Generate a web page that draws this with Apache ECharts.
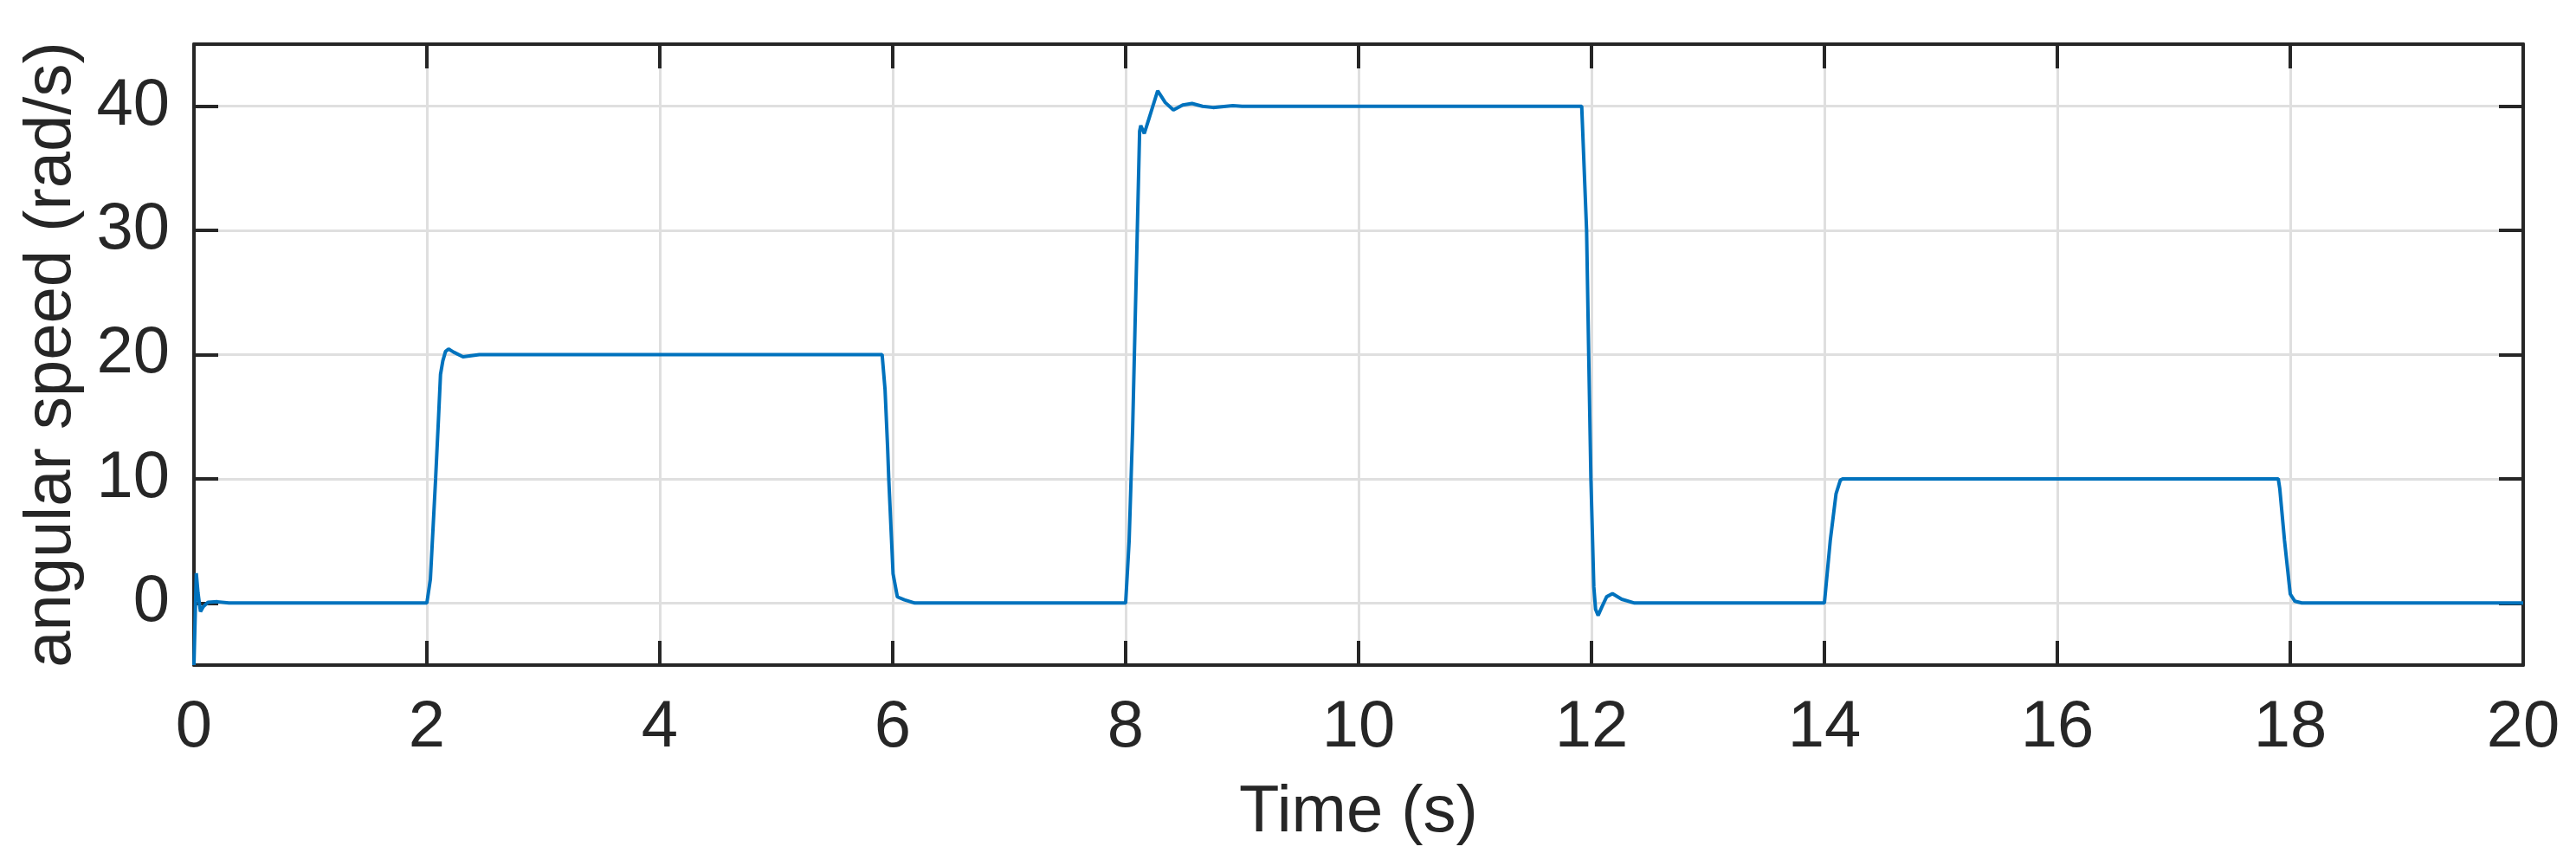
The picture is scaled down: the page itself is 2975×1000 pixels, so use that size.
<!DOCTYPE html>
<html>
<head>
<meta charset="utf-8">
<script src="https://cdn.jsdelivr.net/npm/echarts@6/dist/echarts.min.js"></script>
<style>
  html, body { margin: 0; padding: 0; background: #fff; }
  #chart { width: 2975px; height: 1000px; }
</style>
</head>
<body>
<div id="chart"></div>
<script>
// time samples (s)
var times = [
  0, 0.02, 0.035, 0.056, 0.08, 0.12, 0.2, 0.3,
  2.0, 2.013, 2.03, 2.075, 2.1, 2.117, 2.137, 2.16, 2.186, 2.23, 2.31, 2.38, 2.45,
  5.909, 5.934, 5.956, 5.966, 6.003, 6.04, 6.1, 6.19,
  8.0, 8.005, 8.03, 8.06, 8.08, 8.1, 8.12, 8.13, 8.16, 8.2, 8.275, 8.34, 8.41, 8.49, 8.57, 8.66, 8.75, 8.92, 9.0,
  11.916, 11.958, 11.976, 11.995, 12.02, 12.035, 12.057, 12.09, 12.13, 12.18, 12.26, 12.37,
  14.0, 14.05, 14.1, 14.137, 14.16,
  17.897, 17.91, 17.95, 18.0, 18.04, 18.1,
  20
]
// angular speed (rad/s)
var speeds = [
  -5, 2.4, 0.8, -0.7, -0.3, 0.05, 0.1, 0,
  0, 0, 1.9, 10, 14.9, 18.4, 19.5, 20.25, 20.45, 20.2, 19.83, 19.92, 20,
  20, 17.2, 12.55, 10, 2.35, 0.49, 0.26, 0,
  0, 0, 5, 14, 22, 30, 38, 38.45, 37.8, 39, 41.25, 40.3, 39.7, 40.1, 40.22, 40.0, 39.9, 40.05, 40,
  40, 30, 20, 10, 1.3, -0.5, -1.0, -0.3, 0.5, 0.75, 0.3, 0,
  0, 5, 8.8, 9.9, 10,
  10, 9.2, 5.1, 0.72, 0.14, 0,
  0
]
var xTicks = [0, 2, 4, 6, 8, 10, 12, 14, 16, 18, 20]
var yTicks = [0, 10, 20, 30, 40]

var font = '"Liberation Sans", Arial, Helvetica, sans-serif'
var axisColor = '#262626'

var chart = echarts.init(document.getElementById('chart'))

var points = times.map(function (t, i) { return [t, speeds[i]] })

function boxAxis(extra) {
  return Object.assign({
    type: 'value',
    axisLine: { show: true, onZero: false, lineStyle: { color: axisColor, width: 4 } },
    axisTick: { show: true, inside: true, length: 28, lineStyle: { color: axisColor, width: 4 } },
    axisLabel: { show: false },
    splitLine: { show: false }
  }, extra)
}

chart.setOption({
  animation: false,
  backgroundColor: '#fff',
  grid: { left: 224, right: 61, top: 51, bottom: 232 },
  xAxis: [
    boxAxis({
      position: 'bottom',
      min: 0, max: 20, interval: 2,
      name: 'Time (s)',
      nameLocation: 'middle',
      nameGap: 133,
      nameTextStyle: { color: axisColor, fontSize: 76, fontFamily: font },
      axisLabel: {
        show: true, margin: 35, color: axisColor, fontSize: 76, fontFamily: font,
        formatter: function (v) { return xTicks.indexOf(v) >= 0 ? String(v) : '' }
      },
      splitLine: { show: true, lineStyle: { color: '#dfdfdf', width: 3 } }
    }),
    boxAxis({ position: 'top', min: 0, max: 20, interval: 2 })
  ],
  yAxis: [
    boxAxis({
      position: 'left',
      min: -5, max: 45, interval: 10,
      name: 'angular speed (rad/s)',
      nameLocation: 'middle',
      nameGap: 126,
      nameTextStyle: { color: axisColor, fontSize: 76, fontFamily: font },
      axisLabel: {
        show: true, margin: 28, color: axisColor, fontSize: 76, fontFamily: font,
        customValues: yTicks
      },
      axisTick: { show: true, inside: true, length: 28, customValues: yTicks, lineStyle: { color: axisColor, width: 4 } },
      splitLine: { show: true, lineStyle: { color: '#dfdfdf', width: 3 } }
    }),
    boxAxis({
      position: 'right',
      min: -5, max: 45, interval: 10,
      axisTick: { show: true, inside: true, length: 28, customValues: yTicks, lineStyle: { color: axisColor, width: 4 } }
    })
  ],
  series: [{
    type: 'line',
    data: points,
    showSymbol: false,
    smooth: false,
    clip: true,
    lineStyle: { color: '#0072BD', width: 4 },
    z: 3
  }]
})
</script>
</body>
</html>
